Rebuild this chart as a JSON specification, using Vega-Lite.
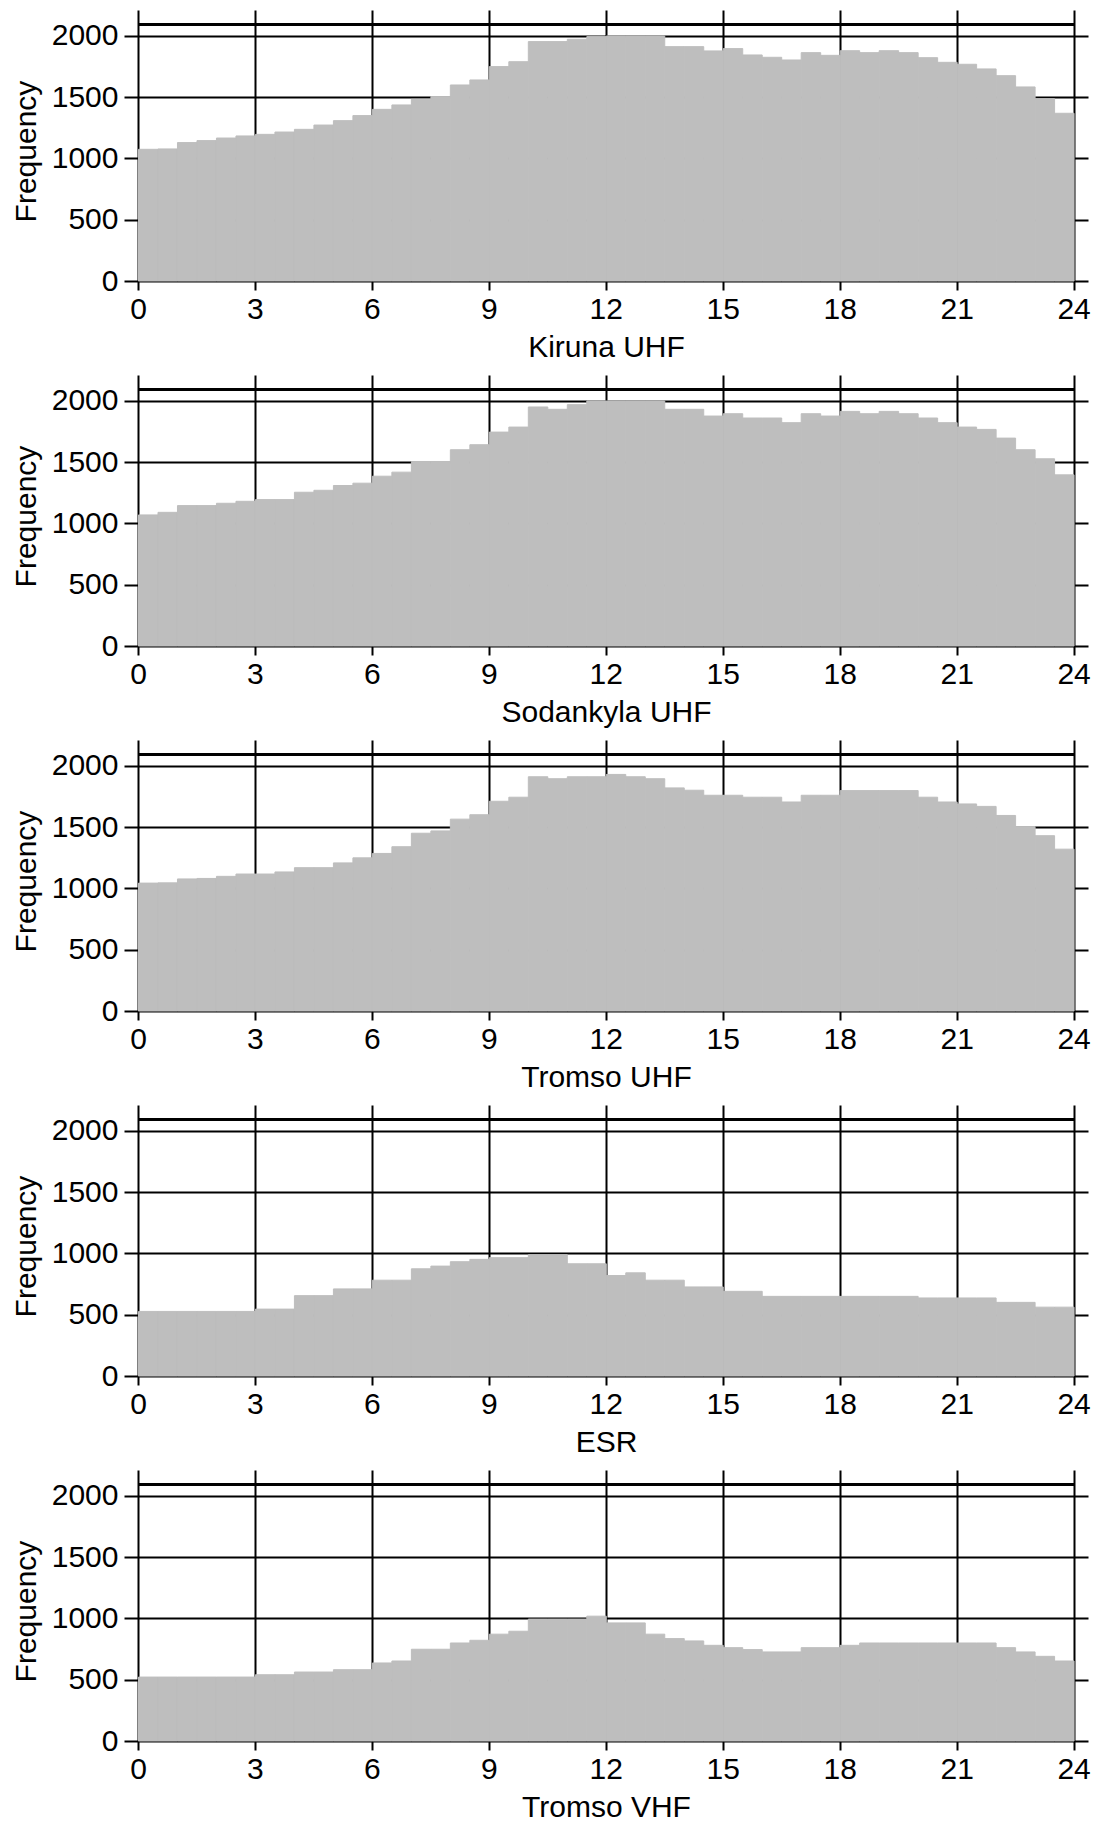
{
  "$schema": "https://vega.github.io/schema/vega-lite/v6.json",
  "padding": {"left": 11, "top": 10, "right": 5, "bottom": 0},
  "spacing": 13,
  "background": "white",
  "datasets": {
    "kiruna": [
      {"h":0,"n":1075},{"h":0.5,"n":1078},{"h":1,"n":1130},{"h":1.5,"n":1146},{"h":2,"n":1167},{"h":2.5,"n":1184},
      {"h":3,"n":1197},{"h":3.5,"n":1216},{"h":4,"n":1238},{"h":4.5,"n":1273},{"h":5,"n":1309},{"h":5.5,"n":1350},
      {"h":6,"n":1401},{"h":6.5,"n":1437},{"h":7,"n":1483},{"h":7.5,"n":1505},{"h":8,"n":1600},{"h":8.5,"n":1641},
      {"h":9,"n":1750},{"h":9.5,"n":1790},{"h":10,"n":1954},{"h":10.5,"n":1954},{"h":11,"n":1973},{"h":11.5,"n":1995},
      {"h":12,"n":2000},{"h":12.5,"n":2000},{"h":13,"n":2000},{"h":13.5,"n":1913},{"h":14,"n":1913},{"h":14.5,"n":1878},
      {"h":15,"n":1897},{"h":15.5,"n":1845},{"h":16,"n":1826},{"h":16.5,"n":1804},{"h":17,"n":1864},{"h":17.5,"n":1842},
      {"h":18,"n":1880},{"h":18.5,"n":1864},{"h":19,"n":1880},{"h":19.5,"n":1864},{"h":20,"n":1823},{"h":20.5,"n":1785},
      {"h":21,"n":1769},{"h":21.5,"n":1731},{"h":22,"n":1676},{"h":22.5,"n":1584},{"h":23,"n":1488},{"h":23.5,"n":1369}
    ],
    "sodankyla": [
      {"h":0,"n":1070},{"h":0.5,"n":1091},{"h":1,"n":1146},{"h":1.5,"n":1146},{"h":2,"n":1165},{"h":2.5,"n":1181},
      {"h":3,"n":1195},{"h":3.5,"n":1195},{"h":4,"n":1255},{"h":4.5,"n":1271},{"h":5,"n":1310},{"h":5.5,"n":1329},
      {"h":6,"n":1386},{"h":6.5,"n":1419},{"h":7,"n":1506},{"h":7.5,"n":1506},{"h":8,"n":1602},{"h":8.5,"n":1643},
      {"h":9,"n":1746},{"h":9.5,"n":1787},{"h":10,"n":1951},{"h":10.5,"n":1932},{"h":11,"n":1970},{"h":11.5,"n":2000},
      {"h":12,"n":2000},{"h":12.5,"n":2000},{"h":13,"n":2000},{"h":13.5,"n":1932},{"h":14,"n":1932},{"h":14.5,"n":1877},
      {"h":15,"n":1896},{"h":15.5,"n":1861},{"h":16,"n":1861},{"h":16.5,"n":1823},{"h":17,"n":1896},{"h":17.5,"n":1877},
      {"h":18,"n":1915},{"h":18.5,"n":1896},{"h":19,"n":1915},{"h":19.5,"n":1896},{"h":20,"n":1861},{"h":20.5,"n":1823},
      {"h":21,"n":1787},{"h":21.5,"n":1768},{"h":22,"n":1697},{"h":22.5,"n":1602},{"h":23,"n":1528},{"h":23.5,"n":1397}
    ],
    "tromsouhf": [
      {"h":0,"n":1044},{"h":0.5,"n":1046},{"h":1,"n":1078},{"h":1.5,"n":1082},{"h":2,"n":1099},{"h":2.5,"n":1118},
      {"h":3,"n":1118},{"h":3.5,"n":1135},{"h":4,"n":1170},{"h":4.5,"n":1170},{"h":5,"n":1209},{"h":5.5,"n":1250},
      {"h":6,"n":1286},{"h":6.5,"n":1341},{"h":7,"n":1451},{"h":7.5,"n":1470},{"h":8,"n":1566},{"h":8.5,"n":1602},
      {"h":9,"n":1712},{"h":9.5,"n":1745},{"h":10,"n":1912},{"h":10.5,"n":1896},{"h":11,"n":1912},{"h":11.5,"n":1912},
      {"h":12,"n":1931},{"h":12.5,"n":1912},{"h":13,"n":1896},{"h":13.5,"n":1821},{"h":14,"n":1802},{"h":14.5,"n":1761},
      {"h":15,"n":1761},{"h":15.5,"n":1745},{"h":16,"n":1745},{"h":16.5,"n":1706},{"h":17,"n":1761},{"h":17.5,"n":1761},
      {"h":18,"n":1799},{"h":18.5,"n":1799},{"h":19,"n":1799},{"h":19.5,"n":1799},{"h":20,"n":1745},{"h":20.5,"n":1706},
      {"h":21,"n":1690},{"h":21.5,"n":1670},{"h":22,"n":1596},{"h":22.5,"n":1505},{"h":23,"n":1431},{"h":23.5,"n":1321}
    ],
    "esr": [
      {"h":0,"n":527},{"h":0.5,"n":527},{"h":1,"n":527},{"h":1.5,"n":527},{"h":2,"n":527},{"h":2.5,"n":527},
      {"h":3,"n":546},{"h":3.5,"n":546},{"h":4,"n":656},{"h":4.5,"n":656},{"h":5,"n":711},{"h":5.5,"n":711},
      {"h":6,"n":782},{"h":6.5,"n":782},{"h":7,"n":875},{"h":7.5,"n":897},{"h":8,"n":933},{"h":8.5,"n":952},
      {"h":9,"n":966},{"h":9.5,"n":966},{"h":10,"n":990},{"h":10.5,"n":990},{"h":11,"n":916},{"h":11.5,"n":916},
      {"h":12,"n":820},{"h":12.5,"n":842},{"h":13,"n":782},{"h":13.5,"n":782},{"h":14,"n":727},{"h":14.5,"n":727},
      {"h":15,"n":691},{"h":15.5,"n":691},{"h":16,"n":650},{"h":16.5,"n":650},{"h":17,"n":650},{"h":17.5,"n":650},
      {"h":18,"n":650},{"h":18.5,"n":650},{"h":19,"n":650},{"h":19.5,"n":650},{"h":20,"n":637},{"h":20.5,"n":637},
      {"h":21,"n":637},{"h":21.5,"n":637},{"h":22,"n":601},{"h":22.5,"n":601},{"h":23,"n":562},{"h":23.5,"n":562}
    ],
    "tromsovhf": [
      {"h":0,"n":522},{"h":0.5,"n":522},{"h":1,"n":522},{"h":1.5,"n":522},{"h":2,"n":522},{"h":2.5,"n":522},
      {"h":3,"n":541},{"h":3.5,"n":541},{"h":4,"n":563},{"h":4.5,"n":563},{"h":5,"n":582},{"h":5.5,"n":582},
      {"h":6,"n":637},{"h":6.5,"n":653},{"h":7,"n":749},{"h":7.5,"n":749},{"h":8,"n":800},{"h":8.5,"n":822},
      {"h":9,"n":872},{"h":9.5,"n":896},{"h":10,"n":995},{"h":10.5,"n":995},{"h":11,"n":995},{"h":11.5,"n":1019},
      {"h":12,"n":964},{"h":12.5,"n":964},{"h":13,"n":872},{"h":13.5,"n":836},{"h":14,"n":817},{"h":14.5,"n":781},
      {"h":15,"n":762},{"h":15.5,"n":746},{"h":16,"n":727},{"h":16.5,"n":727},{"h":17,"n":762},{"h":17.5,"n":762},
      {"h":18,"n":781},{"h":18.5,"n":800},{"h":19,"n":800},{"h":19.5,"n":800},{"h":20,"n":800},{"h":20.5,"n":800},
      {"h":21,"n":800},{"h":21.5,"n":800},{"h":22,"n":762},{"h":22.5,"n":727},{"h":23,"n":691},{"h":23.5,"n":653}
    ]
  },
  "vconcat": [
    {
      "width": 950, "height": 271,
      "data": {"name": "kiruna"},
      "layer": [
        {"mark": {"type": "bar", "color": "#bebebe", "binSpacing": 0, "stroke": "#bebebe", "strokeWidth": 1},
         "encoding": {
           "x": {"field": "h", "type": "quantitative", "bin": {"step": 0.5, "extent": [0, 24]}, "scale": {"domain": [0, 24.37], "nice": false}, "axis": {"title": "Kiruna UHF", "values": [0,3,6,9,12,15,18,21,24], "format": "d"}},
           "y": {"field": "n", "type": "quantitative", "scale": {"domain": [0, 2212], "nice": false}, "axis": {"title": "Frequency", "values": [0,500,1000,1500,2000], "format": "d"}}
         }},
        {"mark": {"type": "rule", "color": "#000", "strokeWidth": 2},
         "encoding": {"x": {"datum": 0, "type": "quantitative"}, "x2": {"datum": 24}, "y": {"datum": 2095, "type": "quantitative"}}}
      ]
    },
    {
      "width": 950, "height": 271,
      "data": {"name": "sodankyla"},
      "layer": [
        {"mark": {"type": "bar", "color": "#bebebe", "binSpacing": 0, "stroke": "#bebebe", "strokeWidth": 1},
         "encoding": {
           "x": {"field": "h", "type": "quantitative", "bin": {"step": 0.5, "extent": [0, 24]}, "scale": {"domain": [0, 24.37], "nice": false}, "axis": {"title": "Sodankyla UHF", "values": [0,3,6,9,12,15,18,21,24], "format": "d"}},
           "y": {"field": "n", "type": "quantitative", "scale": {"domain": [0, 2212], "nice": false}, "axis": {"title": "Frequency", "values": [0,500,1000,1500,2000], "format": "d"}}
         }},
        {"mark": {"type": "rule", "color": "#000", "strokeWidth": 2},
         "encoding": {"x": {"datum": 0, "type": "quantitative"}, "x2": {"datum": 24}, "y": {"datum": 2095, "type": "quantitative"}}}
      ]
    },
    {
      "width": 950, "height": 271,
      "data": {"name": "tromsouhf"},
      "layer": [
        {"mark": {"type": "bar", "color": "#bebebe", "binSpacing": 0, "stroke": "#bebebe", "strokeWidth": 1},
         "encoding": {
           "x": {"field": "h", "type": "quantitative", "bin": {"step": 0.5, "extent": [0, 24]}, "scale": {"domain": [0, 24.37], "nice": false}, "axis": {"title": "Tromso UHF", "values": [0,3,6,9,12,15,18,21,24], "format": "d"}},
           "y": {"field": "n", "type": "quantitative", "scale": {"domain": [0, 2212], "nice": false}, "axis": {"title": "Frequency", "values": [0,500,1000,1500,2000], "format": "d"}}
         }},
        {"mark": {"type": "rule", "color": "#000", "strokeWidth": 2},
         "encoding": {"x": {"datum": 0, "type": "quantitative"}, "x2": {"datum": 24}, "y": {"datum": 2095, "type": "quantitative"}}}
      ]
    },
    {
      "width": 950, "height": 271,
      "data": {"name": "esr"},
      "layer": [
        {"mark": {"type": "bar", "color": "#bebebe", "binSpacing": 0, "stroke": "#bebebe", "strokeWidth": 1},
         "encoding": {
           "x": {"field": "h", "type": "quantitative", "bin": {"step": 0.5, "extent": [0, 24]}, "scale": {"domain": [0, 24.37], "nice": false}, "axis": {"title": "ESR", "values": [0,3,6,9,12,15,18,21,24], "format": "d"}},
           "y": {"field": "n", "type": "quantitative", "scale": {"domain": [0, 2212], "nice": false}, "axis": {"title": "Frequency", "values": [0,500,1000,1500,2000], "format": "d"}}
         }},
        {"mark": {"type": "rule", "color": "#000", "strokeWidth": 2},
         "encoding": {"x": {"datum": 0, "type": "quantitative"}, "x2": {"datum": 24}, "y": {"datum": 2095, "type": "quantitative"}}}
      ]
    },
    {
      "width": 950, "height": 271,
      "data": {"name": "tromsovhf"},
      "layer": [
        {"mark": {"type": "bar", "color": "#bebebe", "binSpacing": 0, "stroke": "#bebebe", "strokeWidth": 1},
         "encoding": {
           "x": {"field": "h", "type": "quantitative", "bin": {"step": 0.5, "extent": [0, 24]}, "scale": {"domain": [0, 24.37], "nice": false}, "axis": {"title": "Tromso VHF", "values": [0,3,6,9,12,15,18,21,24], "format": "d"}},
           "y": {"field": "n", "type": "quantitative", "scale": {"domain": [0, 2212], "nice": false}, "axis": {"title": "Frequency", "values": [0,500,1000,1500,2000], "format": "d"}}
         }},
        {"mark": {"type": "rule", "color": "#000", "strokeWidth": 2},
         "encoding": {"x": {"datum": 0, "type": "quantitative"}, "x2": {"datum": 24}, "y": {"datum": 2095, "type": "quantitative"}}}
      ]
    }
  ],
  "config": {
    "view": {"stroke": null},
    "font": "Liberation Sans",
    "axis": {
      "domain": false, "grid": true, "gridColor": "#000", "gridOpacity": 1, "gridWidth": 2,
      "ticks": true, "tickColor": "#000", "tickWidth": 2, "tickOpacity": 1,
      "labelFont": "Liberation Sans", "labelFontSize": 30, "labelColor": "#000", "labelOverlap": false, "labelBound": false, "labelFlush": false,
      "titleFont": "Liberation Sans", "titleFontSize": 30, "titleFontWeight": "normal", "titleColor": "#000",
      "zindex": 1
    },
    "axisX": {"tickSize": 9, "labelPadding": 4, "titleX": 468, "titleY": 51, "titleBaseline": "top", "titleAlign": "center"},
    "axisY": {"tickSize": 14, "labelPadding": 6, "titleX": -97, "titleY": 141, "titleAlign": "center", "titleBaseline": "bottom", "titleAngle": 270}
  }
}
